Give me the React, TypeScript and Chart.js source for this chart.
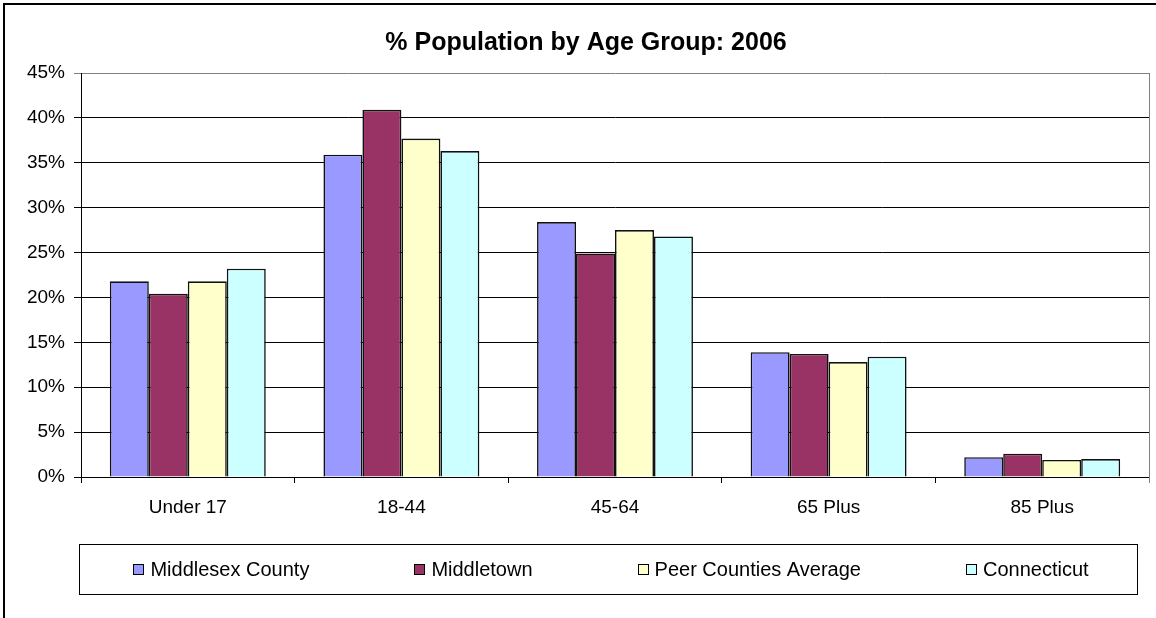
import React, { useEffect, useRef } from "react";
import { Chart, registerables } from "chart.js";

Chart.register(...registerables);

const chartTitle = "% Population by Age Group: 2006";
const categories = ["Under 17", "18-44", "45-64", "65 Plus", "85 Plus"];
const seriesNames = ["Middlesex County", "Middletown", "Peer Counties Average", "Connecticut"];
const middlesexCounty = [21.8, 35.9, 28.4, 13.9, 2.2];
const middletown = [20.4, 40.9, 24.9, 13.7, 2.6];
const peerCountiesAverage = [21.8, 37.7, 27.5, 12.8, 1.9];
const connecticut = [23.2, 36.3, 26.8, 13.4, 2.0];
const yTickValues = [0, 5, 10, 15, 20, 25, 30, 35, 40, 45];

const seriesColors = ["#9999FF", "#993366", "#FFFFCC", "#CCFFFF"];
const FONT = '"Liberation Sans", Arial, sans-serif';

const decorPlugin = {
  id: "decor",
  afterDraw(chart: any) {
    const ctx = chart.ctx as CanvasRenderingContext2D;
    const area = chart.chartArea;
    ctx.save();
    // outer frame
    ctx.strokeStyle = "#000";
    ctx.lineWidth = 2;
    ctx.beginPath();
    ctx.moveTo(4, 640);
    ctx.lineTo(4, 4);
    ctx.lineTo(1170, 4);
    ctx.stroke();
    // plot right border
    ctx.strokeStyle = "#808080";
    ctx.lineWidth = 1;
    ctx.beginPath();
    ctx.moveTo(Math.round(area.right) + 0.5, area.top);
    ctx.lineTo(Math.round(area.right) + 0.5, area.bottom + 6);
    ctx.stroke();
    // title
    ctx.fillStyle = "#000";
    ctx.font = `bold 25px ${FONT}`;
    ctx.textAlign = "center";
    ctx.textBaseline = "middle";
    ctx.fillText(chartTitle, 586, 43);
    // legend
    const boxL = 79, boxT = 544, boxW = 1058, boxH = 50;
    ctx.strokeStyle = "#000";
    ctx.lineWidth = 1;
    ctx.strokeRect(boxL + 0.5, boxT + 0.5, boxW, boxH);
    ctx.font = `20px ${FONT}`;
    ctx.textAlign = "left";
    const sq = 10, sqGap = 7, gap = 105;
    const widths = chart.data.datasets.map((d: any) => sq + sqGap + ctx.measureText(d.label).width);
    const total = widths.reduce((a: number, b: number) => a + b, 0) + gap * (widths.length - 1);
    let x = boxL + boxW / 2 - total / 2 + 3;
    const cy = boxT + boxH / 2;
    chart.data.datasets.forEach((d: any, i: number) => {
      ctx.fillStyle = d.backgroundColor;
      ctx.fillRect(Math.round(x) + 0.5, Math.round(cy - sq / 2) + 0.5, sq, sq);
      ctx.strokeStyle = "#000";
      ctx.strokeRect(Math.round(x) + 0.5, Math.round(cy - sq / 2) + 0.5, sq, sq);
      ctx.fillStyle = "#000";
      ctx.fillText(d.label, x + sq + sqGap, cy + 1);
      x += widths[i] + gap;
    });
    ctx.restore();
  },
};

export default function App() {
  const ref = useRef<HTMLCanvasElement | null>(null);
  useEffect(() => {
    document.body.style.margin = "0";
    const seriesValues = [middlesexCounty, middletown, peerCountiesAverage, connecticut];
    const chart = new Chart(ref.current as HTMLCanvasElement, {
      type: "bar",
      data: {
        labels: categories,
        datasets: seriesNames.map((name, i) => ({
          label: name,
          data: seriesValues[i],
          backgroundColor: seriesColors[i],
          borderColor: "#111",
          borderWidth: 1.6,
          categoryPercentage: 0.73,
          barPercentage: 1.0,
        })),
      },
      options: {
        animation: false,
        responsive: true,
        maintainAspectRatio: false,
        layout: { padding: { top: 73, left: 4, right: 7, bottom: 81 } },
        plugins: {
          legend: { display: false },
          title: { display: false },
          tooltip: { enabled: false },
        },
        scales: {
          x: {
            afterFit: (s: any) => { s.height = 60; },
            grid: {
              display: true,
              drawOnChartArea: false,
              drawTicks: true,
              tickLength: 6,
              color: "#000",
              offset: true,
            },
            border: { display: true, color: "#000", width: 1 },
            ticks: {
              color: "#000",
              font: { family: FONT, size: 19 },
              padding: 13,
            },
          },
          y: {
            min: 0,
            max: 45,
            afterFit: (s: any) => { s.width = 77; },
            afterBuildTicks: (s: any) => { s.ticks = yTickValues.map((v) => ({ value: v })); },
            grid: {
              color: (c: any) => (c.tick && c.tick.value === 45 ? "#808080" : "#000"),
              lineWidth: 1,
              tickLength: 7,
            },
            border: { display: true, color: "#000", width: 1 },
            ticks: {
              color: "#000",
              font: { family: FONT, size: 19 },
              padding: 9,
              callback: (v: any) => `${v}%`,
            },
          },
        },
      },
      plugins: [decorPlugin],
    });
    return () => chart.destroy();
  }, []);
  return (
    <div style={{ position: "relative", width: 1156, height: 618, background: "#fff" }}>
      <canvas ref={ref} />
    </div>
  );
}
